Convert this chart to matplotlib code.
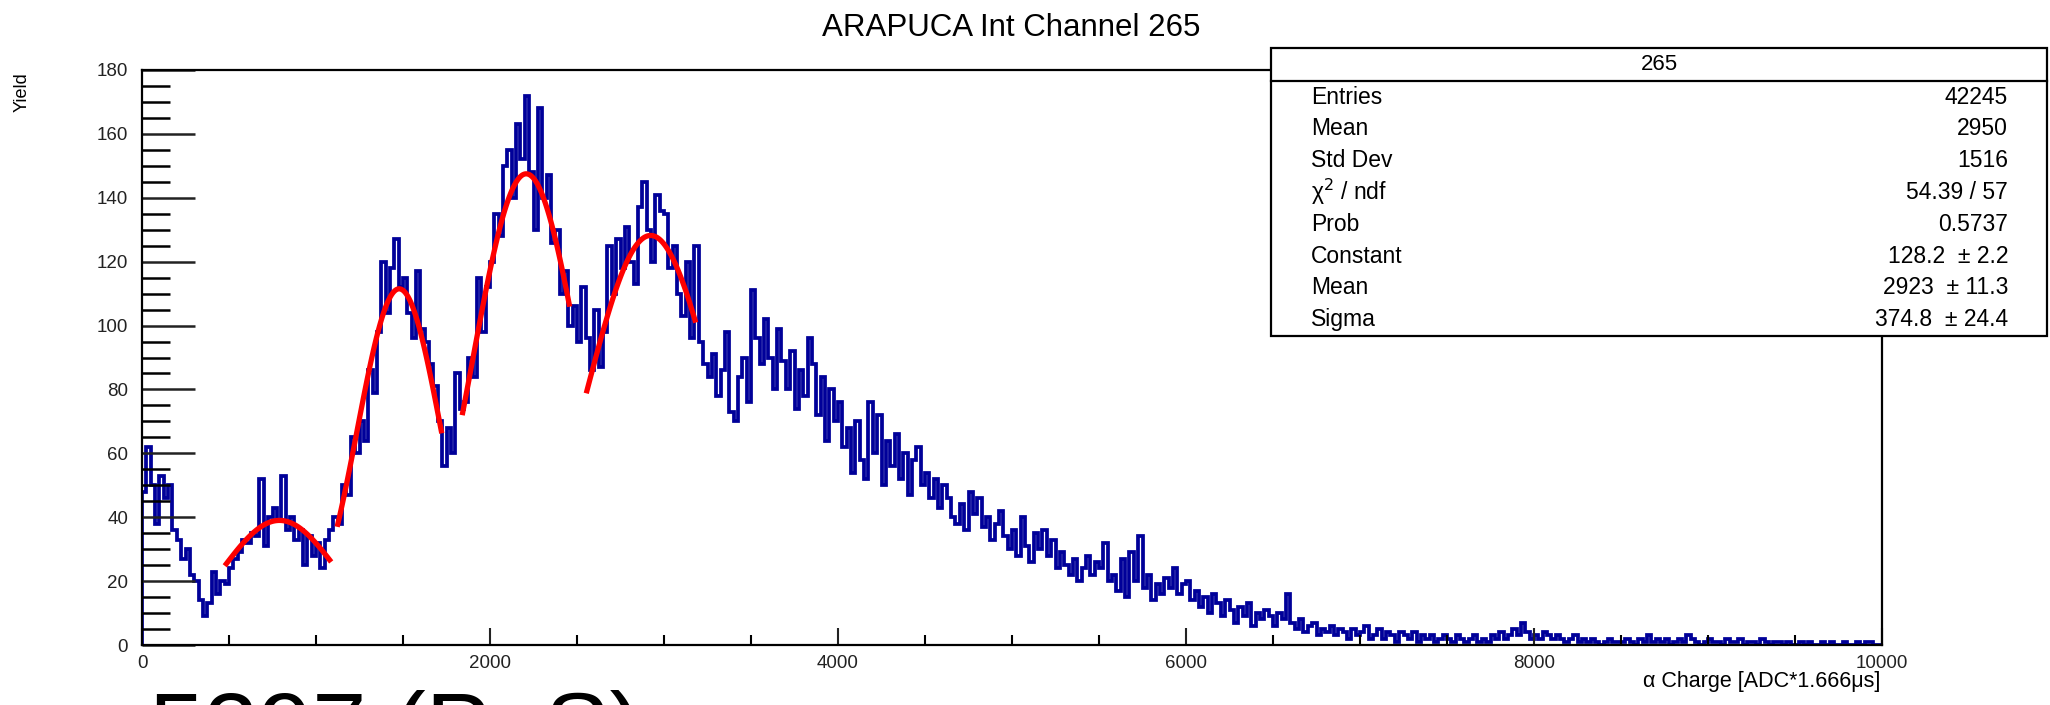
import numpy as np
import matplotlib.pyplot as plt
from matplotlib.patches import Rectangle

plt.rcParams['font.family'] = ['Liberation Sans', 'DejaVu Sans']

# histogram: 400 bins of 25 ADC*us from 0 to 10000
bin_lo, bin_hi = 0, 10000
counts = [
    # 0 - 1000
    48, 62, 50, 38, 53, 46, 50, 36, 33, 27, 30, 22, 20, 14, 9, 13, 23, 16, 20, 19,
    24, 27, 29, 33, 32, 35, 34, 52, 31, 40, 43, 39, 53, 36, 40, 33, 36, 25, 34, 28,
    # 1000 - 2000
    32, 24, 33, 36, 40, 38, 50, 47, 65, 60, 70, 64, 86, 79, 98, 120, 104, 118, 127, 112,
    115, 104, 96, 117, 99, 95, 88, 81, 70, 56, 68, 60, 85, 74, 76, 90, 84, 115, 98, 112,
    # 2000 - 3000
    120, 135, 128, 150, 155, 140, 163, 152, 172, 148, 130, 168, 140, 147, 126, 130, 110, 117, 100, 106,
    95, 112, 96, 86, 105, 87, 98, 125, 110, 127, 118, 131, 120, 113, 137, 145, 130, 120, 141, 136,
    # 3000 - 4000
    135, 118, 125, 110, 103, 120, 96, 125, 95, 88, 84, 91, 78, 86, 98, 73, 70, 84, 90, 76,
    111, 96, 88, 102, 90, 80, 99, 89, 80, 92, 74, 86, 78, 96, 88, 72, 84, 64, 80, 70,
    # 4000 - 5000
    76, 62, 68, 54, 70, 58, 52, 76, 60, 72, 50, 64, 56, 66, 52, 60, 47, 58, 62, 50,
    54, 46, 52, 43, 50, 46, 40, 38, 44, 36, 48, 41, 46, 37, 40, 33, 38, 42, 34, 30,
    # 5000 - 6000
    36, 28, 40, 31, 26, 35, 30, 36, 28, 33, 24, 29, 25, 22, 27, 20, 24, 28, 22, 26,
    24, 32, 20, 22, 17, 27, 15, 29, 20, 34, 18, 22, 14, 19, 16, 21, 18, 24, 16, 19,
    # 6000 - 7000
    20, 14, 17, 12, 15, 10, 16, 13, 9, 14, 11, 7, 12, 9, 13, 6, 10, 8, 11, 9,
    6, 10, 8, 16, 7, 5, 8, 4, 6, 7, 3, 5, 4, 6, 3, 5, 4, 2, 5, 3,
    # 7000 - 8000
    4, 6, 2, 3, 5, 2, 4, 3, 1, 4, 3, 2, 4, 1, 3, 2, 3, 1, 2, 3,
    2, 1, 3, 2, 1, 2, 3, 1, 2, 1, 3, 2, 4, 2, 3, 5, 3, 7, 4, 2,
    # 8000 - 9000
    3, 2, 4, 3, 2, 3, 2, 1, 2, 3, 1, 2, 1, 2, 1, 0, 1, 2, 1, 1,
    1, 2, 1, 0, 2, 1, 3, 1, 2, 1, 2, 0, 1, 2, 1, 3, 2, 1, 0, 1,
    # 9000 - 10000
    2, 1, 1, 0, 2, 1, 1, 2, 0, 1, 1, 0, 2, 1, 0, 1, 1, 0, 1, 0,
    0, 1, 0, 1, 0, 0, 1, 0, 1, 0, 0, 1, 0, 0, 1, 0, 1, 1, 0, 0,
]

# gaussian fits (red), one per peak
fit_const = [39.0, 111.5, 147.5, 128.2]
fit_mean = [790, 1478, 2208, 2923]
fit_sigma = [330, 240, 307, 374.8]
fit_lo = [485, 1125, 1843, 2557]
fit_hi = [1078, 1720, 2455, 3178]

stat_names = ["Entries", "Mean", "Std Dev", "χ$^{2}$ / ndf", "Prob", "Constant", "Mean", "Sigma"]
stat_vals = ["42245", "2950", "1516", "54.39 / 57", "0.5737",
             "128.2  ± 2.2", "2923  ± 11.3", "374.8  ± 24.4"]

W, H = 2050, 705
fig = plt.figure(figsize=(W / 100, H / 100), dpi=100)


def fx(px):
    return px / W


def fy(py):
    return 1 - py / H


ax = fig.add_axes([fx(142), fy(645), fx(1882) - fx(142), fy(70) - fy(645)])

edges = np.linspace(bin_lo, bin_hi, len(counts) + 1)
ax.stairs(counts, edges, color='#000099', lw=2.7)

for c, m, s, lo, hi in zip(fit_const, fit_mean, fit_sigma, fit_lo, fit_hi):
    xs = np.linspace(lo, hi, 100)
    ax.plot(xs, c * np.exp(-0.5 * ((xs - m) / s) ** 2), color='red', lw=3.8)

ax.set_xlim(bin_lo, bin_hi)
ax.set_ylim(0, 180)
ax.set_xticks(range(0, 10001, 2000))
ax.set_xticks(range(0, 10001, 500), minor=True)
ax.set_yticks(range(0, 181, 20))
ax.set_yticks(range(0, 181, 5), minor=True)
ax.tick_params(axis='x', which='major', direction='in', length=12, width=1.5,
               labelsize=13.5, pad=7, top=False)
ax.tick_params(axis='x', which='minor', direction='in', length=7, width=1.5, top=False)
ax.tick_params(axis='y', which='major', direction='in', length=38, width=1.8,
               labelsize=13.5, pad=10, right=False)
ax.tick_params(axis='y', which='minor', direction='in', length=20, width=1.8, right=False)
ax.tick_params(colors='#222222')
for sp in ax.spines.values():
    sp.set_linewidth(1.6)

fig.text(fx(1011), fy(28), "ARAPUCA Int Channel 265", ha='center', va='center', fontsize=22.5)
fig.text(fx(1880), fy(681), "α Charge [ADC*1.666μs]", ha='right', va='center', fontsize=15.5)
fig.text(fx(22), fy(72), "Yield", rotation=90, ha='center', va='top', fontsize=13)

# stats box
box = Rectangle((fx(1271), fy(336)), fx(2047) - fx(1271), fy(48) - fy(336),
                transform=fig.transFigure, facecolor='white', edgecolor='black',
                lw=1.6, zorder=10)
fig.add_artist(box)
fig.add_artist(plt.Line2D([fx(1271), fx(2047)], [fy(81), fy(81)],
                          transform=fig.transFigure, color='black', lw=1.6, zorder=11))
fig.text(fx(1659), fy(65), "265", ha='center', va='center', fontsize=16, zorder=12)
for i, (n, v) in enumerate(zip(stat_names, stat_vals)):
    y = fy(97 + i * 31.8)
    fig.text(fx(1311), y, n, ha='left', va='center', fontsize=16.5, zorder=12)
    fig.text(fx(2008), y, v, ha='right', va='center', fontsize=16.5, zorder=12)

# caption cut off at the bottom of the slide
fig.text(fx(150), fy(760), "5397 (PoS)", ha='left', va='baseline', fontsize=70)

fig.savefig("out.png", dpi=100)
